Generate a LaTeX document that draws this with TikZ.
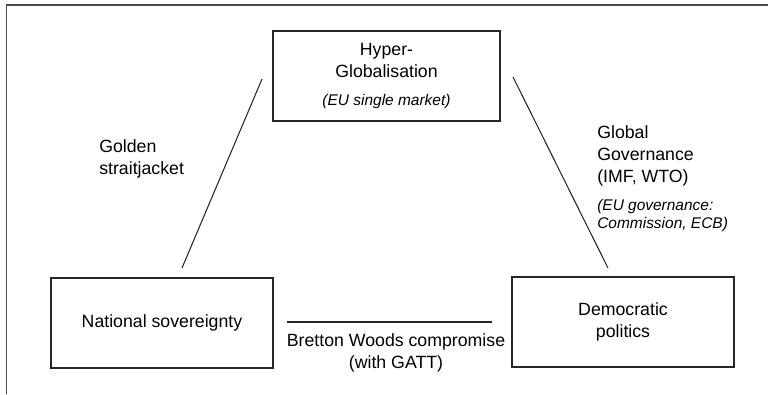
\documentclass[tikz,border=0pt]{standalone}
\usepackage{fontspec}
\setmainfont{Liberation Sans}

\begin{document}
\begin{tikzpicture}[x=0.025cm, y=-0.025cm,
    box/.style={draw=black!85, line width=1.2pt, rectangle, align=center, minimum height=2.25cm,
        font=\fontsize{12.6}{15.6}\selectfont},
    lbl/.style={align=left, inner sep=0pt, font=\fontsize{12.6}{15.6}\selectfont},
    note/.style={align=left, inner sep=0pt, font=\fontsize{11}{12.1}\selectfont\itshape},
    link/.style={draw=black!85, line width=0.75pt}]

    \useasboundingbox (0,0) rectangle (768,394);

    % Frame
    \draw[black!70, line width=1.4pt] (768,5) -- (6.5,5) -- (6.5,394);

    % Corners
    \node[box, minimum width=5.675cm] (hyper) at (386.5,76) {Hyper-\\Globalisation\\[4pt]{\fontsize{11}{12}\selectfont\itshape (EU single market)}};
    \node[box, minimum width=5.55cm] (nation) at (162,323) {National sovereignty};
    \node[box, minimum width=5.55cm] (demo) at (623,322) {Democratic\\politics};

    % Line ends
    \coordinate (gsLow) at (182,268);
    \coordinate (gsHigh) at (262,79);
    \coordinate (ggHigh) at (513,77);
    \coordinate (ggLow) at (608,268);
    \coordinate (bwLeft) at (287,322);
    \coordinate (bwRight) at (492,322);

    % Trilemma sides
    \draw[link] (gsLow) -- (gsHigh);
    \draw[link] (ggHigh) -- (ggLow);
    \draw[link, line width=1.4pt] (bwLeft) -- (bwRight);

    % Side labels
    \node[lbl, anchor=west] (golden) at (99,159) {Golden\\straitjacket};
    \node[lbl, anchor=west] (global) at (597,156) {Global\\Governance\\(IMF, WTO)};
    \node[note, anchor=west] (eugov) at (597,215.5) {(EU governance:\\Commission, ECB)};
    \node[lbl, align=center] (bretton) at (396,352.5) {Bretton Woods compromise\\(with GATT)};

\end{tikzpicture}
\end{document}
